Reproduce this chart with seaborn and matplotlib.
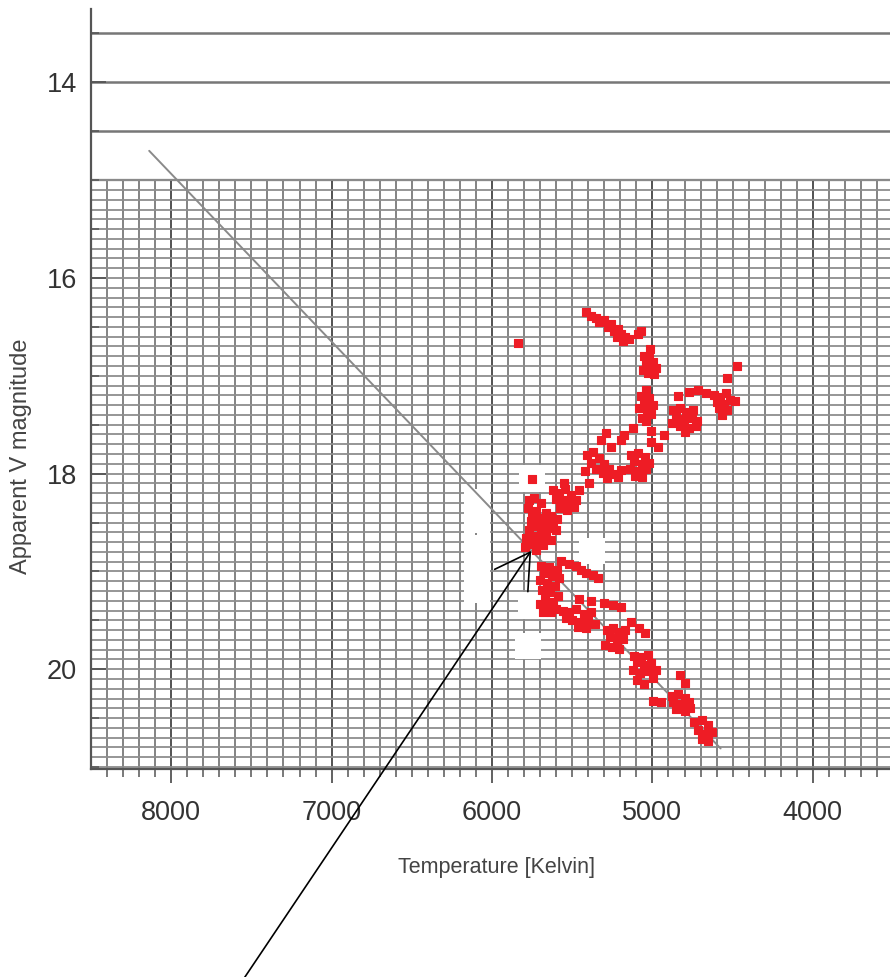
import numpy as np
import pandas as pd
import matplotlib
matplotlib.use("Agg")
import matplotlib.pyplot as plt
import seaborn as sns

# ---------------- data ----------------
star_temp = [
    5413, 5381, 5350, 5331, 5300, 5275, 5256, 5238, 5213, 5194, 5219, 5169, 5181, 5144, 5088, 5069,
    5050, 5019, 4994, 5038, 5006, 4975, 5056, 5025, 4988, 5013,
    4475, 4538,
    5038, 5069, 5019, 5050, 4994, 5081, 5031, 5006, 5063, 5038,
    4869, 4831, 4788, 4744, 4850, 4806, 4756, 4719, 4881, 4825, 4775, 4731, 4800,
    4619, 4581, 4544, 4600, 4556, 4519, 4588, 4538, 4569, 4488,
    4769, 4713, 4663, 4838,
    5288, 5175, 5119, 5006, 4963, 4925, 5256, 5006, 5319, 5194,
    5406, 5369, 5331, 5381, 5300, 5350, 5269, 5244, 5306, 5213, 5281, 5419, 5194,
    5131, 5088, 5044, 5113, 5063, 5019, 5138, 5088, 5038, 5106, 5063,
    5619, 5581, 5544, 5506, 5600, 5556, 5519, 5475, 5575, 5531, 5488, 5550, 5394, 5456,
    5769, 5738, 5694, 5775, 5725, 5663, 5631, 5706, 5756, 5675, 5619, 5725, 5650, 5600,
    5769, 5694, 5738, 5663, 5788, 5706, 5631, 5756, 5681, 5725, 5794, 5656, 5594, 5750,
    5694, 5644, 5594, 5675, 5625, 5581, 5700, 5656, 5606, 5688, 5638, 5588, 5669, 5619,
    5700, 5650, 5600, 5681, 5631,
    5569, 5519, 5475, 5413, 5369, 5338, 5444,
    5556, 5519, 5475, 5425, 5381, 5538, 5500, 5450, 5400, 5356, 5463, 5413,
    5456, 5381, 5300, 5244, 5194,
    5281, 5244, 5206, 5169, 5263, 5219, 5181, 5294, 5250, 5206, 5081, 5044, 5131,
    5113, 5069, 5025, 5094, 5050, 5006, 5119, 5075, 5031, 5094, 5050, 4994, 4975,
    4831, 4794, 4994, 4944,
    4881, 4838, 4794, 4869, 4819, 4775, 4850, 4800, 4763,
    4738, 4694, 4656, 4713, 4675, 4631, 4694, 4656,
    5838, 5750,
]
star_mag = [
    16.35, 16.39, 16.41, 16.45, 16.43, 16.50, 16.47, 16.54, 16.52, 16.57, 16.60, 16.60, 16.64, 16.62, 16.57, 16.54,
    16.80, 16.82, 16.86, 16.88, 16.91, 16.92, 16.94, 16.97, 16.98, 16.73,
    16.90, 17.02,
    17.15, 17.21, 17.23, 17.28, 17.30, 17.33, 17.35, 17.39, 17.43, 17.46,
    17.35, 17.33, 17.37, 17.35, 17.42, 17.44, 17.43, 17.46, 17.48, 17.51, 17.53, 17.51, 17.57,
    17.20, 17.22, 17.18, 17.27, 17.29, 17.25, 17.33, 17.35, 17.40, 17.26,
    17.17, 17.15, 17.18, 17.21,
    17.59, 17.61, 17.53, 17.68, 17.73, 17.61, 17.73, 17.56, 17.66, 17.66,
    17.81, 17.78, 17.84, 17.89, 17.90, 17.95, 17.95, 18.00, 17.99, 18.03, 18.05, 17.97, 17.96,
    17.81, 17.79, 17.83, 17.87, 17.90, 17.89, 17.95, 17.97, 17.95, 18.02, 18.03,
    18.17, 18.20, 18.16, 18.22, 18.26, 18.27, 18.29, 18.27, 18.35, 18.37, 18.34, 18.10, 18.10, 18.17,
    18.27, 18.25, 18.30, 18.35, 18.38, 18.40, 18.43, 18.45, 18.48, 18.50, 18.51, 18.54, 18.56, 18.58,
    18.58, 18.60, 18.64, 18.65, 18.66, 18.69, 18.68, 18.72, 18.73, 18.78, 18.75, 18.48, 18.46, 18.43,
    18.94, 18.95, 18.99, 19.02, 19.05, 19.07, 19.09, 19.12, 19.15, 19.19, 19.21, 19.25, 19.28, 19.31,
    19.33, 19.37, 19.38, 19.41, 19.42,
    18.89, 18.92, 18.94, 19.02, 19.04, 19.07, 18.99,
    19.40, 19.42, 19.38, 19.44, 19.42, 19.48, 19.50, 19.52, 19.50, 19.54, 19.57, 19.58,
    19.28, 19.30, 19.32, 19.34, 19.36,
    19.60, 19.58, 19.62, 19.60, 19.67, 19.70, 19.69, 19.75, 19.77, 19.79, 19.58, 19.63, 19.52,
    19.86, 19.88, 19.85, 19.93, 19.96, 19.94, 20.01, 20.04, 20.02, 20.11, 20.15, 20.09, 20.01,
    20.06, 20.14, 20.32, 20.34,
    20.27, 20.25, 20.29, 20.34, 20.36, 20.34, 20.41, 20.43, 20.40,
    20.54, 20.52, 20.57, 20.62, 20.66, 20.64, 20.71, 20.73,
    16.66, 18.06,
]

# white blotches in the scanned picture
blank_temp = [6094, 6094, 6094, 6094, 6094, 5750, 5756, 5775, 5375]
blank_mag = [18.29, 18.47, 18.76, 19.03, 19.19, 18.05, 19.35, 19.76, 18.79]

# fitted sequence line (end points)
fit_temp = [8137, 4575]
fit_mag = [14.70, 20.81]

# arrow target
arrow_temp, arrow_mag = 5756, 18.79

x_ticks = [8000, 7000, 6000, 5000, 4000]
y_ticks = [14, 16, 18, 20]

# ---------------- figure ----------------
sns.set_theme(style="white")
plt.rcParams["font.family"] = ["Liberation Sans", "DejaVu Sans"]

fig = plt.figure(figsize=(8.9, 9.77), dpi=100)
ax = fig.add_axes([0.1022, 0.2129, 0.8978, 0.7779])
ax.set_xlim(8500, 3519)
ax.set_ylim(21.02, 13.25)

# coarse horizontal lines (whole height)
ax.hlines([13.5, 14.0, 14.5], 8500, 3519, color="#777777", lw=1.8, zorder=0)
ax.hlines([15.0], 8500, 3519, color="#666666", lw=1.6, zorder=0)
# fine graph-paper grid below mag 15
ax.vlines(np.arange(8500, 3500, -100), 15.0, 21.02, color="#7a7a7a", lw=1.3, zorder=0)
ax.vlines(np.arange(8000, 3500, -1000), 15.0, 21.02, color="#555555", lw=1.4, zorder=0)
ax.hlines(np.arange(15.0, 21.01, 0.1), 8500, 3519, color="#8e8e8e", lw=1.3, zorder=0)

blank_df = pd.DataFrame({"T": blank_temp, "V": blank_mag})
sns.scatterplot(data=blank_df, x="T", y="V", marker="s", s=360, color="white",
                edgecolor="none", linewidth=0, ax=ax, zorder=2)

fit_df = pd.DataFrame({"T": fit_temp, "V": fit_mag})
sns.lineplot(data=fit_df, x="T", y="V", color="#8a8a8a", lw=1.4, ax=ax, zorder=3)

star_df = pd.DataFrame({"T": star_temp, "V": star_mag})
sns.scatterplot(data=star_df, x="T", y="V", marker="s", s=26, color="#ee1c25",
                edgecolor="#ee1c25", linewidth=0.8, ax=ax, zorder=4)

ax.annotate("", xy=(arrow_temp, arrow_mag), xycoords="data",
            xytext=(0.2715, -0.005), textcoords="figure fraction",
            arrowprops=dict(arrowstyle="->,head_length=2.45,head_width=1.44",
                            color="black", lw=1.2, mutation_scale=10,
                            shrinkA=0, shrinkB=0),
            annotation_clip=False, zorder=6)

# axes styling
for side in ["top", "right"]:
    ax.spines[side].set_visible(False)
for side in ["left", "bottom"]:
    ax.spines[side].set_color("#555555")
    ax.spines[side].set_linewidth(1.6)

ax.set_xticks(x_ticks)
ax.set_xticks(np.arange(8400, 3500, -100), minor=True)
ax.set_yticks(y_ticks)
ax.set_yticks(np.arange(13.5, 21.01, 0.5), minor=True)
ax.tick_params(axis="x", which="major", direction="out", length=10, width=1.3,
               color="#555555", labelsize=19.5, labelcolor="#333333", pad=12, bottom=True)
ax.tick_params(axis="x", which="minor", direction="out", length=6, width=1.1,
               color="#555555", bottom=True)
ax.tick_params(axis="y", which="major", direction="in", length=11, width=1.3,
               color="#555555", labelsize=19.5, labelcolor="#333333", pad=10, left=True)
ax.tick_params(axis="y", which="minor", direction="in", length=6, width=1.1,
               color="#555555", left=True)
ax.set_xticklabels([str(t) for t in x_ticks])
ax.set_yticklabels([str(t) for t in y_ticks])

ax.set_xlabel("Temperature [Kelvin]", fontsize=15.5, color="#444444")
ax.set_ylabel("Apparent V magnitude", fontsize=17, color="#444444")
ax.xaxis.set_label_coords(0.507, -0.1158)
ax.yaxis.set_label_coords(-0.074, 0.412)

fig.savefig("out.png", dpi=100)
